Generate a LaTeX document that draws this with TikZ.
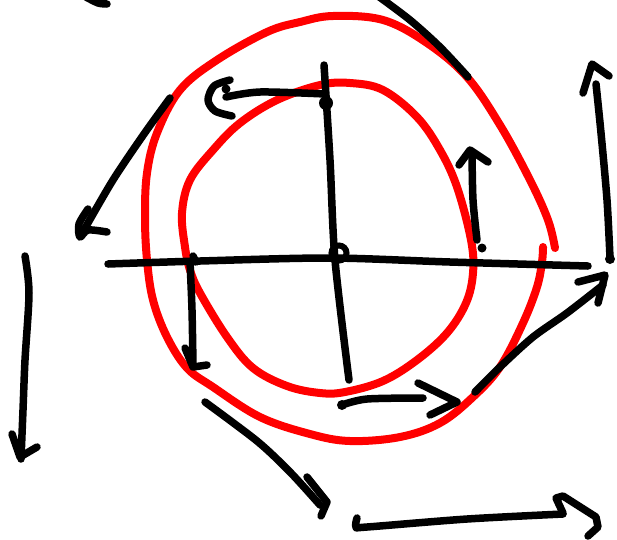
\documentclass[tikz,border=0pt]{standalone}
\begin{document}
\begin{tikzpicture}[x=1pt,y=-1pt,
  ink/.style={line width=7.5pt,black,line cap=round,line join=round},
  redink/.style={line width=8pt,red,line cap=round,line join=round}]
\useasboundingbox (0,0) rectangle (617,539);
\fill[white] (0,0) rectangle (617,539);
% outer red loop (open at right)
\draw[redink] plot[smooth,tension=0.6] coordinates {(543,247) (542,262) (537,287) (523,323) (500,367) (473,397) (440,423) (400,437) (350,441) (310,434) (260,417) (213,387) (187,368) (167,337) (153,300) (147,260) (145,217) (147,173) (157,133) (180,90) (217,60) (267,32) (300,22) (333,16) (383,20) (427,43) (467,77) (500,125) (530,180) (548,220) (555,248)};
% inner red loop
\draw[redink] plot[smooth cycle,tension=0.6] coordinates {(320,85) (277,100) (240,123) (213,150) (190,180) (182,213) (185,247) (190,270) (200,293) (227,337) (253,368) (287,386) (320,393) (345,392) (383,381) (417,360) (447,333) (466,303) (473,273) (471,240) (457,187) (440,150) (417,117) (383,90) (350,83)};
% top-left small stroke
\draw[ink] plot[smooth] coordinates {(86,-3) (98,3) (107,4)};
% top diagonal
\draw[ink] plot[smooth] coordinates {(378,-4) (410,20) (440,47) (468,77)};
% horizontal axis
\draw[ink] plot[smooth] coordinates {(108,264) (200,261) (330,258) (450,262) (588,266)};
\draw[ink] (193,256) -- (196,262);
% vertical axis
\draw[ink] plot[smooth] coordinates {(324,65) (330,160) (335,260) (349,380)};
% origin circle
\draw[line width=6pt,black] (339,253) circle (7.5);
% top arrow with hook
\fill[black] (326,103) circle (7);
\draw[ink] plot[smooth] coordinates {(325,94) (260,92) (226,97)};
\draw[ink] plot[smooth] coordinates {(230,80) (214,86) (208,100) (215,111) (232,116)};
\fill[black] (226,89) circle (4.5);
% left diagonal arrow
\draw[ink] plot[smooth] coordinates {(170,98) (144,134) (113,180) (84,230)};
\draw[ink] plot[smooth,tension=0.5] coordinates {(88,209) (79,224) (80,237) (88,230) (107,232)};
% left vertical arrow
\draw[ink] plot[smooth] coordinates {(25,256) (29,293) (25,360) (23,410) (21,459)};
\draw[ink] (12,434) -- (20,457) -- (37,447);
% down arrow from axis
\draw[ink] plot[smooth] coordinates {(190,262) (192,310) (193,366)};
\draw[ink] (185,348) -- (193,367) -- (207,365);
% lower-left diagonal arrow
\draw[ink] plot[smooth] coordinates {(205,402) (257,441) (290,472) (320,505)};
\draw[ink] (307,477) -- (327,502) -- (321,516);
% bottom arrow
\draw[ink] plot[smooth] coordinates {(357,518) (356,527) (367,527) (467,519) (563,514)};
\draw[ink] (563,513) -- (556,498) -- (563,496) -- (596,517) -- (598,527) -- (588,536);
% lower middle arrow
\fill[black] (342,405) circle (5);
\draw[ink] plot[smooth] coordinates {(342,405) (367,399) (423,398)};
\draw[ink] (418,383) -- (457,402) -- (430,415);
% lower right curved arrow
\draw[ink] plot[smooth] coordinates {(475,392) (500,367) (533,337) (567,313) (603,285)};
\draw[ink] (578,282) -- (605,275) -- (598,303);
% small up arrow
\draw[ink] plot[smooth] coordinates {(477,240) (473,200) (472,152)};
\draw[ink] (459,165) -- (470,150) -- (488,162);
\fill[black] (482,248) circle (4.5);
% far right up arrow
\draw[ink] plot[smooth] coordinates {(610,258) (607,200) (601,133) (596,84)};
\draw[ink] (583,93) -- (592,64) -- (609,76);
\fill[black] (610,259) circle (5);
\end{tikzpicture}
\end{document}
